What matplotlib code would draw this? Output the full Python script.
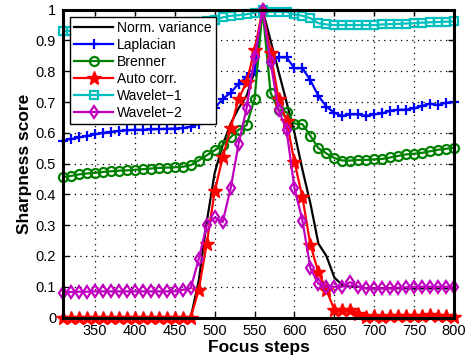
import numpy as np
import matplotlib
matplotlib.use('Agg')
import matplotlib.pyplot as plt

plt.rcParams['font.family'] = ['Liberation Sans', 'DejaVu Sans']

# focus positions 310..800, step 10
steps = list(range(310, 801, 10))

norm_var = [0.0, 0.0, 0.0, 0.0, 0.0, 0.0, 0.0, 0.0, 0.0, 0.0,
            0.0, 0.0, 0.0, 0.0, 0.0, 0.0, 0.0, 0.12, 0.31, 0.47,
            0.56, 0.63, 0.68, 0.72, 0.80, 1.0, 0.90, 0.80, 0.70, 0.60,
            0.48, 0.37, 0.24, 0.20, 0.13, 0.105, 0.10, 0.10, 0.095, 0.095,
            0.095, 0.095, 0.095, 0.095, 0.095, 0.095, 0.095, 0.095, 0.095, 0.095]

laplacian = [0.575, 0.58, 0.585, 0.59, 0.595, 0.60, 0.603, 0.606, 0.608, 0.61,
             0.61, 0.611, 0.612, 0.613, 0.614, 0.615, 0.62, 0.63, 0.65, 0.68,
             0.71, 0.73, 0.76, 0.78, 0.80, 1.0, 0.83, 0.845, 0.845, 0.81,
             0.81, 0.77, 0.72, 0.685, 0.665, 0.655, 0.66, 0.66, 0.655, 0.66,
             0.663, 0.672, 0.675, 0.675, 0.68, 0.687, 0.695, 0.69, 0.698, 0.70]

brenner = [0.456, 0.46, 0.465, 0.468, 0.47, 0.473, 0.475, 0.477, 0.478, 0.48,
           0.482, 0.484, 0.486, 0.487, 0.488, 0.49, 0.495, 0.51, 0.527, 0.543,
           0.56, 0.586, 0.61, 0.625, 0.71, 1.0, 0.73, 0.675, 0.667, 0.63,
           0.628, 0.59, 0.55, 0.533, 0.518, 0.51, 0.51, 0.512, 0.512, 0.514,
           0.515, 0.52, 0.525, 0.53, 0.532, 0.535, 0.54, 0.545, 0.548, 0.552]

auto_corr = [0.0, 0.0, 0.0, 0.0, 0.0, 0.0, 0.0, 0.0, 0.0, 0.0,
             0.0, 0.0, 0.0, 0.0, 0.0, 0.0, 0.0, 0.09, 0.24, 0.41,
             0.52, 0.615, 0.71, 0.765, 0.87, 1.0, 0.86, 0.71, 0.64, 0.505,
             0.39, 0.235, 0.147, 0.09, 0.025, 0.025, 0.025, 0.013, 0.002, 0.004,
             0.003, 0.005, 0.004, 0.006, 0.005, 0.006, 0.007, 0.005, 0.006, 0.003]

wavelet1 = [0.93, 0.932, 0.934, 0.936, 0.938, 0.94, 0.942, 0.944, 0.946, 0.948,
            0.95, 0.951, 0.952, 0.954, 0.956, 0.958, 0.959, 0.96, 0.962, 0.966,
            0.975, 0.98, 0.982, 0.985, 0.99, 1.0, 0.993, 0.993, 0.993, 0.985,
            0.98, 0.972, 0.956, 0.952, 0.95, 0.95, 0.95, 0.95, 0.95, 0.95,
            0.952, 0.953, 0.954, 0.955, 0.956, 0.958, 0.959, 0.96, 0.961, 0.962]

wavelet2 = [0.08, 0.083, 0.084, 0.084, 0.085, 0.085, 0.085, 0.085, 0.085, 0.085,
            0.085, 0.085, 0.085, 0.085, 0.085, 0.09, 0.095, 0.19, 0.30, 0.325,
            0.31, 0.42, 0.565, 0.68, 0.845, 1.0, 0.83, 0.675, 0.61, 0.42,
            0.315, 0.16, 0.11, 0.10, 0.10, 0.10, 0.115, 0.10, 0.095, 0.095,
            0.095, 0.095, 0.097, 0.098, 0.10, 0.10, 0.10, 0.10, 0.10, 0.098]

xticks = [350, 400, 450, 500, 550, 600, 650, 700, 750, 800]
yticks = [0, 0.1, 0.2, 0.3, 0.4, 0.5, 0.6, 0.7, 0.8, 0.9, 1]
ytick_labels = ['0', '0.1', '0.2', '0.3', '0.4', '0.5', '0.6', '0.7', '0.8', '0.9', '1']

fig = plt.figure(figsize=(4.71, 3.58), dpi=100)
ax = fig.add_axes([0.134, 0.113, 0.830, 0.860])

lw = 1.6
ax.plot(steps, norm_var, color='k', lw=lw, label='Norm. variance', clip_on=False)
ax.plot(steps, laplacian, color='b', lw=lw, marker='+', ms=7, mew=1.6,
        label='Laplacian', clip_on=False)
ax.plot(steps, brenner, color=(0, 0.5, 0), lw=lw, marker='o', ms=6.5, mew=1.6,
        mfc='none', label='Brenner', clip_on=False)
ax.plot(steps, auto_corr, color='r', lw=lw, marker='*', ms=10, mew=1,
        label='Auto corr.', clip_on=False)
ax.plot(steps, wavelet1, color=(0, 0.75, 0.75), lw=lw, marker='s', ms=5.5, mew=1.6,
        mfc='none', label='Wavelet\u22121', clip_on=False)
ax.plot(steps, wavelet2, color=(0.75, 0, 0.75), lw=lw, marker='d', ms=6.5, mew=1.6,
        mfc='none', label='Wavelet\u22122', clip_on=False)

ax.set_xlim(310, 800)
ax.set_ylim(0, 1)
ax.set_xticks(xticks)
ax.set_yticks(yticks)
ax.set_yticklabels(ytick_labels)
ax.tick_params(direction='in', top=True, right=True, length=4, width=1,
               labelsize=10.5, pad=5)
ax.grid(True, color='k', linestyle=(0, (1, 3.5)), linewidth=0.9)
for s in ax.spines.values():
    s.set_linewidth(2.2)

ax.set_xlabel('Focus steps', fontsize=12.5, fontweight='bold', labelpad=1)
ax.set_ylabel('Sharpness score', fontsize=12.5, fontweight='bold', labelpad=3)

leg = ax.legend(loc='upper left', fontsize=10, handlelength=2.8, labelspacing=0.22,
                borderpad=0.3, handletextpad=0.3, fancybox=False, framealpha=1,
                edgecolor='k', borderaxespad=0.5)
leg.get_frame().set_linewidth(1.0)

fig.savefig('out.png', dpi=100)
